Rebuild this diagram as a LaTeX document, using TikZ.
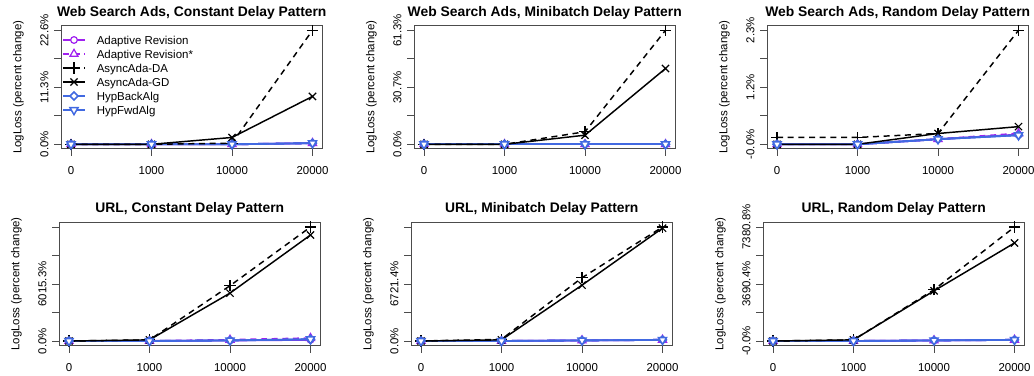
\documentclass[tikz,border=0pt]{standalone}
\usepackage{fontspec}
\setmainfont{Liberation Sans}
\usetikzlibrary{shapes.geometric,shapes.misc}
\definecolor{rpurple}{HTML}{A020F0}
\definecolor{rblue}{HTML}{4169E1}
\tikzset{
  frame/.style={black!70, line width=0.75pt},
  ticklab/.style={inner sep=0pt, font=\fontsize{8.6}{10}\selectfont},
  titlelab/.style={inner sep=0pt, font=\fontsize{10.4}{12}\selectfont\bfseries},
  mkbase/.style={inner sep=0pt, line width=0.9pt},
  mkar/.style={mkbase, circle, draw=rpurple, fill=white, minimum size=5pt},
  mkars/.style={mkbase, regular polygon, regular polygon sides=3, draw=rpurple, fill=white, minimum size=7pt},
  mkda/.style={mkbase, cross out, draw=black, rotate=45, minimum size=5pt},
  mkgd/.style={mkbase, cross out, draw=black, minimum size=4.5pt},
  mkhb/.style={mkbase, diamond, draw=rblue, fill=white, minimum size=6.5pt, line width=1.1pt},
  mkhf/.style={mkbase, regular polygon, regular polygon sides=3, shape border rotate=180, draw=rblue, fill=white, minimum size=7pt, line width=1.1pt},
  lnar/.style={rpurple, line width=1.4pt},
  lnars/.style={rpurple, line width=1.4pt, dash pattern=on 4.5pt off 3.5pt},
  lnda/.style={black, line width=1.1pt, dash pattern=on 4.5pt off 3.5pt},
  lngd/.style={black, line width=1.1pt},
  lnhb/.style={rblue, line width=1.4pt},
  lnhf/.style={rblue, line width=1.4pt},
}
% #1 name, #2 first x, #3 zero line, #4 title, #5 y labels, #6 series
\newcommand{\lossplot}[6]{%
  \pgfmathsetmacro\plotL{#2-9.7}
  \pgfmathsetmacro\plotR{#2+3*80.5+9.7}
  \pgfmathsetmacro\plotT{#3-57*2.08}
  \pgfmathsetmacro\plotB{#3+57*0.08}
  \draw[frame] (\plotL,\plotT) rectangle (\plotR,\plotB);
  \foreach \lab [count=\i from 0] in {0,1000,10000,20000}{
    \draw[frame] ({#2+80.5*\i},\plotB) -- ++(0,7);
    \node[ticklab, anchor=base] (#1x\i) at ({#2+80.5*\i},\plotB+26) {\lab};
  }
  \foreach \v in {0,0.5,...,2}
    \draw[frame] (\plotL,{#3-57*\v}) -- ++(-7,0);
  \foreach \v/\lab [count=\i] in {#5}
    \node[ticklab, rotate=90, anchor=base] (#1y\i) at (\plotL-13,{#3-57*\v}) {\lab};
  \node[ticklab, rotate=90, anchor=base] (#1ylab) at (\plotL-40,{(\plotT+\plotB)/2}) {LogLoss (percent change)};
  \node[titlelab, anchor=base] (#1title) at ({(\plotL+\plotR)/2},\plotT-9.5) {#4};
  \foreach \s/\va/\vb/\vc/\vd in {#6}{
    \foreach \v [count=\i from 0] in {\va,\vb,\vc,\vd}
      \coordinate (#1\s\i) at ({#2+80.5*\i},{#3-57*\v});
    \draw[ln\s] (#1\s0) -- (#1\s1) -- (#1\s2) -- (#1\s3);
  }
  \foreach \s in {ar,ars,da,gd,hb,hf}
    \foreach \i in {0,...,3}
      \node[mk\s] (#1\s\i m) at (#1\s\i) {};
}
\begin{document}
\begin{tikzpicture}[x=0.75pt, y=-0.75pt]
\useasboundingbox (0,0) rectangle (1034,375);

\lossplot{p1}{71}{144.3}{Web Search Ads, Constant Delay Pattern}
  {0/0.0\%, 1/11.3\%, 2/22.6\%}
  {ar/0/0/0/0.02, ars/0/0/0/0.02, hb/0/0/0/0.02, hf/0/0/0/0.02, da/0/0/0.02/2, gd/0/0/0.12/0.84}
\lossplot{p2}{424}{144.3}{Web Search Ads, Minibatch Delay Pattern}
  {0/0.0\%, 1/30.7\%, 2/61.3\%}
  {ar/0/0/0/0, ars/0/0/0/0, hb/0/0/0/0, hf/0/0/0/0, da/0/0/0.22/2, gd/0/0/0.16/1.33}
\lossplot{p3}{777}{144.3}{Web Search Ads, Random Delay Pattern}
  {0/-0.0\%, 1/1.2\%, 2/2.3\%}
  {ar/0/0/0.09/0.17, ars/0/0/0.09/0.19, hb/0/0/0.09/0.16, hf/0/0/0.09/0.16, da/0.12/0.12/0.19/2, gd/0/0/0.19/0.31}
\lossplot{p4}{69}{341}{URL, Constant Delay Pattern}
  {0/0.0\%, 1/6015.3\%}
  {ar/0/0/0.01/0.02, ars/0/0/0.02/0.05, hb/0/0/0.01/0.03, hf/0/0/0.01/0.03, da/0/0.02/0.97/2, gd/0/0.02/0.84/1.86}
\lossplot{p5}{421}{341}{URL, Minibatch Delay Pattern}
  {0/0.0\%, 1/6721.4\%}
  {ar/0/0/0.01/0.02, ars/0/0/0.01/0.02, hb/0/0/0.01/0.02, hf/0/0/0.01/0.02, da/0/0.03/1.11/2, gd/0/0.02/0.98/1.98}
\lossplot{p6}{773}{341}{URL, Random Delay Pattern}
  {0/-0.0\%, 1/3690.4\%, 2/7380.8\%}
  {ar/0/0/0.01/0.02, ars/0/0/0.01/0.02, hb/0/0/0.01/0.02, hf/0/0/0.01/0.02, da/0/0.02/0.9/2, gd/0/0.02/0.88/1.72}

\foreach \s/\lab [count=\r from 0] in {ar/Adaptive Revision, ars/Adaptive Revision*, da/AsyncAda-DA, gd/AsyncAda-GD, hb/HypBackAlg, hf/HypFwdAlg}{
  \coordinate (lg\s a) at (63,{40+14*\r});
  \coordinate (lg\s b) at (85,{40+14*\r});
  \draw[ln\s] (lg\s a) -- (lg\s b);
  \node[mk\s] (lg\s) at (74,{40+14*\r}) {};
  \node[ticklab, anchor=base west] (lg\s t) at (96.5,{44+14*\r}) {\lab};
}
\end{tikzpicture}
\end{document}
